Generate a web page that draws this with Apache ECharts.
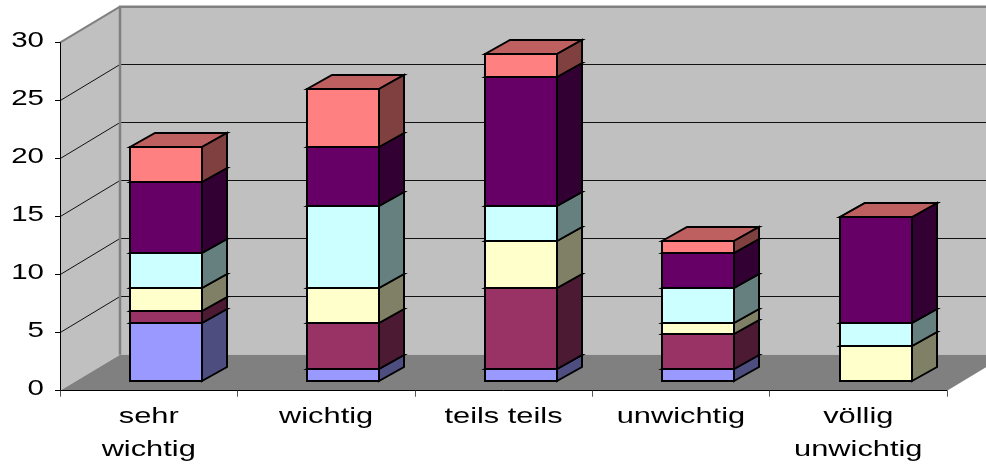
<!DOCTYPE html>
<html><head><meta charset="utf-8">
<style>html,body{margin:0;padding:0;background:#fff}#c{width:986px;height:464px}</style>
<script src="https://cdn.jsdelivr.net/npm/echarts@6/dist/echarts.min.js"></script>
</head><body><div id="c"></div>
<script>
const categories = ["sehr\nwichtig", "wichtig", "teils teils", "unwichtig", "völlig\nunwichtig"];
const yTicks = [0, 5, 10, 15, 20, 25, 30];
const seriesA = [5, 1, 1, 1, 0];
const seriesB = [1, 4, 7, 3, 0];
const seriesC = [2, 3, 4, 1, 3];
const seriesD = [3, 7, 3, 3, 2];
const seriesE = [6, 5, 11, 3, 9];
const seriesF = [3, 5, 2, 1, 0];
const stacks = [seriesA, seriesB, seriesC, seriesD, seriesE, seriesF];
const colors = ["#9999FF", "#993366", "#FFFFCC", "#CCFFFF", "#660066", "#FF8080"];

const WALL = [60, -36], BAR_SHIFT = [17.3, -9.7], BAR_DEPTH = [25, -14], BAR_RATIO = 0.406;
const FONT = '22px "Liberation Sans", Arial, sans-serif', SX = 1.4, SY = 1.34;

function shade(hex, k) {
  const n = parseInt(hex.slice(1), 16);
  return 'rgb(' + [(n >> 16) & 255, (n >> 8) & 255, n & 255].map(v => Math.round(v * k)).join(',') + ')';
}
const poly = (points, fill, stroke, lw) => ({
  type: 'polygon', shape: { points },
  style: { fill, stroke: stroke || null, lineWidth: lw || 0, lineJoin: 'miter' }
});
const line = (a, b, stroke, lw) => ({
  type: 'line', shape: { x1: a[0], y1: a[1], x2: b[0], y2: b[1] }, style: { stroke, lineWidth: lw }
});

function wallsItem(params, api) {
  const band = api.size([1, 0])[0];
  const c0 = api.coord([0, 0]);
  const x0 = c0[0] - band / 2, x1 = x0 + band * categories.length;
  const yB = c0[1], yT = api.coord([0, yTicks[yTicks.length - 1]])[1];
  const [dx, dy] = WALL, ch = [];
  ch.push(poly([[x0 + dx, yT + dy], [x1 + dx, yT + dy], [x1 + dx, yB + dy], [x0 + dx, yB + dy]], '#C0C0C0'));
  ch.push(poly([[x0, yT], [x0 + dx, yT + dy], [x0 + dx, yB + dy], [x0, yB]], '#C0C0C0'));
  ch.push(poly([[x0, yB], [x0 + dx, yB + dy], [x1 + dx, yB + dy], [x1, yB]], '#808080'));
  yTicks.forEach(t => {
    if (t === 0 || t === yTicks[yTicks.length - 1]) return;
    const y = api.coord([0, t])[1];
    const yb = Math.floor(y + dy) + 0.5;
    ch.push(line([x0, y], [x0 + dx, yb], '#111', 1));
    ch.push(line([x0 + dx, yb], [x1 + dx, yb], '#111', 1));
  });
  ch.push(line([x0, yT], [x0 + dx, yT + dy], '#808080', 2));
  ch.push(line([x0 + dx - 1, yT + dy], [x1 + dx, yT + dy], '#808080', 2.5));
  ch.push(line([x0 + dx, yT + dy], [x0 + dx, yB + dy], '#808080', 2.5));
  return { type: 'group', children: ch };
}

const barSeries = stacks.map((vals, si) => ({
  type: 'custom', name: 'Reihe ' + (si + 1), coordinateSystem: 'cartesian2d', clip: false,
  data: vals.map((v, i) => {
    let s = 0;
    for (let k = 0; k < si; k++) s += stacks[k][i];
    return [i, s, s + v];
  }),
  encode: { x: 0, y: [1, 2] },
  renderItem(params, api) {
    const i = api.value(0), lo = api.value(1), hi = api.value(2);
    const isLast = si === stacks.length - 1;
    if (hi === lo && !(isLast && hi > 0)) return null;
    const w = Math.round(api.size([1, 0])[0] * BAR_RATIO);
    const pt = v => {
      const c = api.coord([i, v]);
      return [Math.round(c[0] + BAR_SHIFT[0] - w / 2), Math.round(c[1] + BAR_SHIFT[1] - 0.08 * v)];
    };
    const b = pt(lo), t = pt(hi), [dx, dy] = BAR_DEPTH, col = colors[si];
    const xL = b[0], xR = b[0] + w;
    const top = poly([[xL, t[1]], [xL + dx, t[1] + dy], [xR + dx, t[1] + dy], [xR, t[1]]], shade(col, 0.75), '#000', 2);
    if (hi === lo) return top;
    return { type: 'group', children: [
      top,
      poly([[xR, b[1]], [xR + dx, b[1] + dy], [xR + dx, t[1] + dy], [xR, t[1]]], shade(col, 0.5), '#000', 2),
      poly([[xL, b[1]], [xR, b[1]], [xR, t[1]], [xL, t[1]]], col, '#000', 2)
    ] };
  }
}));

const chart = echarts.init(document.getElementById('c'), null, { renderer: 'canvas' });
chart.setOption({
  animation: false,
  grid: { left: 60, right: 39, top: 42.7, bottom: 73.3 },
  xAxis: {
    type: 'category', data: categories, boundaryGap: true, z: 10,
    axisLine: { show: true, lineStyle: { color: '#000', width: 1 } },
    axisTick: { show: true, alignWithLabel: false, length: 6, lineStyle: { color: '#555' } },
    axisLabel: { show: false }, splitLine: { show: false }
  },
  yAxis: {
    type: 'value', min: 0, max: 30, interval: 5, z: 10,
    axisLine: { show: true, lineStyle: { color: '#000', width: 1 } },
    axisTick: { show: true, length: 5, lineStyle: { color: '#000' } },
    axisLabel: { show: false }, splitLine: { show: false }
  },
  series: [
    { type: 'custom', name: 'Wände', coordinateSystem: 'cartesian2d', clip: false, silent: true,
      data: [[0, 0]], encode: { x: 0, y: 1 }, renderItem: wallsItem },
    ...barSeries,
    { type: 'custom', name: 'x-labels', coordinateSystem: 'cartesian2d', clip: false, silent: true,
      data: categories.map((c, i) => [i, 0]), encode: { x: 0, y: 1 },
      renderItem(params, api) {
        const c = api.coord([api.value(0), 0]);
        return { type: 'text', x: c[0], y: c[1] + 10, scaleX: SX,
          style: { text: categories[api.value(0)], font: FONT, fill: '#000', align: 'center',
                   verticalAlign: 'top', lineHeight: 33 } };
      } },
    { type: 'custom', name: 'y-labels', coordinateSystem: 'cartesian2d', clip: false, silent: true,
      data: yTicks.map(t => [0, t]), encode: { x: 0, y: 1 },
      renderItem(params, api) {
        const y = api.coord([0, api.value(1)])[1];
        return { type: 'text', x: 44, y: y - 1.5, scaleX: SY,
          style: { text: String(api.value(1)), font: FONT, fill: '#000', align: 'right', verticalAlign: 'middle' } };
      } }
  ]
});
</script></body></html>
